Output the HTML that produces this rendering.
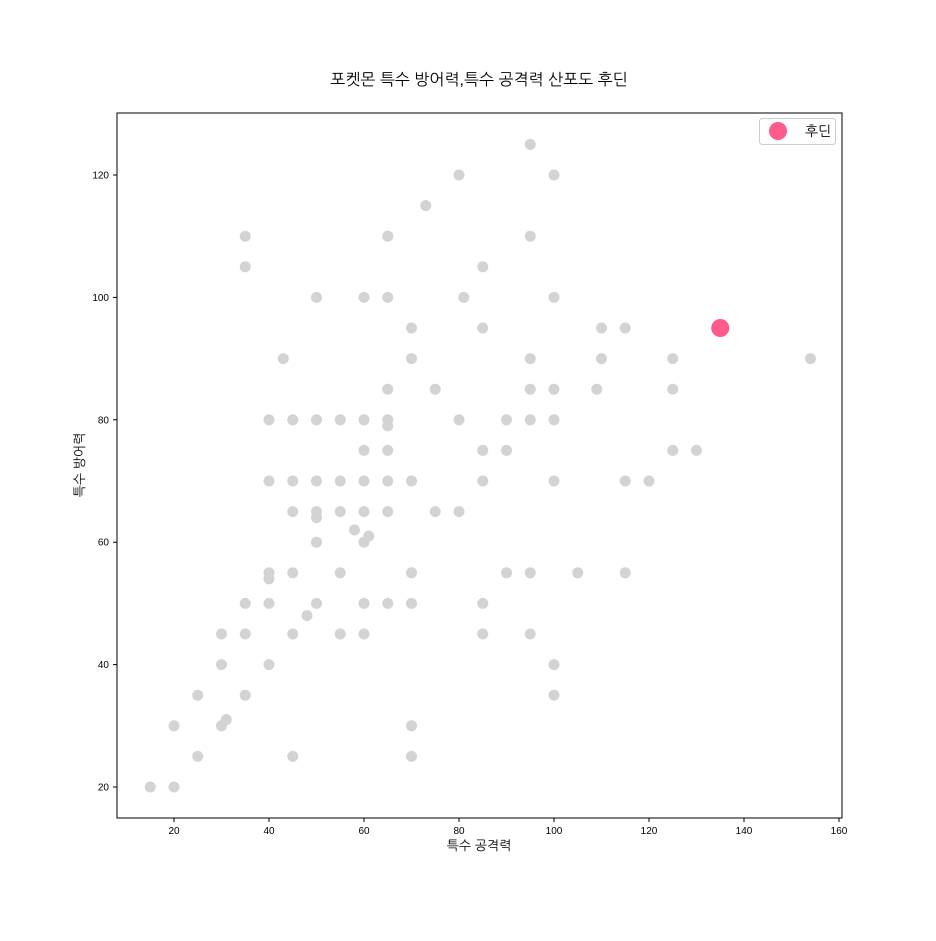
<!DOCTYPE html>
<html><head><meta charset="utf-8"><style>
body{margin:0;background:#fff}
text{font-family:"Liberation Sans","NanumGothic","Noto Sans CJK KR",sans-serif}
</style></head><body>
<svg id="c" width="936" height="936" xmlns="http://www.w3.org/2000/svg">
<rect width="936" height="936" fill="#fff"/>
<text x="479" y="85" text-anchor="middle" font-size="16" fill="#000">포켓몬 특수 방어력,특수 공격력 산포도 후딘</text>
<g id="pts"></g>
<rect x="117" y="113" width="725" height="705" fill="none" stroke="#000" stroke-width="1"/>
<g id="ax"></g>
<text x="479" y="850" text-anchor="middle" font-size="13">특수 공격력</text>
<text transform="translate(84,465) rotate(-90)" text-anchor="middle" font-size="13">특수 방어력</text>
<g>
<rect x="759.5" y="118.5" width="76" height="26" rx="3" fill="#fff" stroke="#ccc"/>
<circle cx="778" cy="131" r="9" fill="#ff5a8a"/>
<text x="805" y="136" font-size="14">후딘</text>
</g>
</svg>
<script>
const spAtk=[15,20,20,25,25,30,31,30,30,35,35,35,35,35,40,40,40,40,40,40,43,45,45,45,45,45,45,48,50,50,50,50,50,50,50,55,55,55,55,55,58,60,60,60,61,60,60,60,60,60,65,65,65,65,65,65,65,65,65,70,70,70,70,70,70,70,73,75,75,80,80,80,81,85,85,85,85,85,85,90,90,90,95,95,95,95,95,95,95,100,100,100,100,100,100,100,105,109,110,110,115,115,115,120,125,125,125,130,154];
const spDef=[20,20,30,25,35,30,31,40,45,35,45,50,105,110,40,50,54,55,70,80,90,25,45,55,65,70,80,48,50,60,64,65,70,80,100,45,55,65,70,80,62,45,50,60,61,65,70,75,80,100,50,65,70,75,79,80,85,100,110,25,30,50,55,70,90,95,115,65,85,65,80,120,100,45,50,70,75,95,105,55,75,80,45,55,80,85,90,110,125,35,40,70,80,85,100,120,55,85,90,95,55,70,95,70,75,85,90,75,90];
const hlAtk=[135];
const hlDef=[95];
const xTicks=[20,40,60,80,100,120,140,160];
const yTicks=[20,40,60,80,100,120];
const X=v=>174+(v-20)*4.75, Y=v=>787-(v-20)*6.12;
const NS="http://www.w3.org/2000/svg";
const pts=document.getElementById('pts'), ax=document.getElementById('ax');
function mk(t,a,p){const e=document.createElementNS(NS,t);for(const k in a)e.setAttribute(k,a[k]);p.appendChild(e);return e;}
spAtk.forEach((v,i)=>{const c=mk('circle',{cx:X(v),cy:Y(spDef[i]),r:5.5,fill:'#d3d3d3'},pts);

});
hlAtk.forEach((v,i)=>{const c=mk('circle',{cx:X(v),cy:Y(hlDef[i]),r:9,fill:'#ff5a8a'},pts);

});
xTicks.forEach(v=>{const x=X(v);mk('line',{x1:x,x2:x,y1:818,y2:822,stroke:'#000'},ax);
const t=mk('text',{x:x,y:834,'text-anchor':'middle','font-size':10},ax);t.textContent=v;

});
yTicks.forEach(v=>{const y=Y(v);mk('line',{x1:113,x2:117,y1:y,y2:y,stroke:'#000'},ax);
const t=mk('text',{x:109,y:y+3.5,'text-anchor':'end','font-size':10},ax);t.textContent=v;

});
</script>
</body></html>
